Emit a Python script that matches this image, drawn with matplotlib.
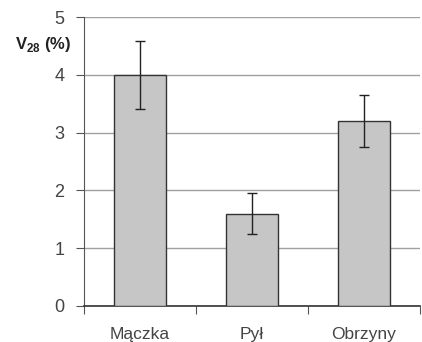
import matplotlib
matplotlib.use('Agg')
import matplotlib.pyplot as plt

plt.rcParams['font.family'] = ['Liberation Sans', 'DejaVu Sans']
plt.rcParams['mathtext.fontset'] = 'custom'
plt.rcParams['mathtext.rm'] = 'Liberation Sans'
plt.rcParams['mathtext.bf'] = 'Liberation Sans:bold'

categories = ['Mączka', 'Pył', 'Obrzyny']
values = [4.0, 1.6, 3.2]
errors = [0.59, 0.36, 0.45]
yticks = [0, 1, 2, 3, 4, 5]

fig = plt.figure(figsize=(4.22, 3.42), dpi=100)
ax = fig.add_axes([84 / 422, 36 / 342, 336 / 422, 289 / 342])

x = list(range(len(categories)))
ax.bar(x, values, width=0.46, color='#c6c6c6', edgecolor='#333333', linewidth=1.0, zorder=3)
ax.errorbar(x, values, yerr=errors, fmt='none', ecolor='#222222', elinewidth=1.0,
            capsize=3.6, capthick=1.0, zorder=4)

ax.set_xlim(-0.5, 2.5)
ax.set_ylim(0, 5)
ax.set_yticks(yticks)
ax.set_yticklabels([str(t) for t in yticks], fontsize=13, color='#444444')
ax.yaxis.grid(True, color='#a0a0a0', linewidth=1.0, zorder=0)

# category ticks sit between bars, labels centered under bars
ax.set_xticks([-0.5, 0.5, 1.5, 2.5])
ax.set_xticklabels([])
ax.set_xticks(x, minor=True)
ax.set_xticklabels(categories, minor=True, fontsize=12.5, color='#444444')
ax.tick_params(axis='x', which='minor', length=0, pad=15)
ax.tick_params(axis='x', which='major', length=6, color='#555555', direction='out')
ax.tick_params(axis='y', length=6, color='#555555', direction='out', pad=8)

for side in ['top', 'right']:
    ax.spines[side].set_visible(False)
ax.spines['left'].set_color('#555555')
ax.spines['bottom'].set_color('#333333')
ax.spines['bottom'].set_linewidth(1.2)

fig.text(15 / 422, 1 - 45 / 342, r'V$_{\mathbf{28}}$ (%)', fontsize=12, fontweight='bold',
         color='#222222', va='center', ha='left')

fig.savefig('out.png', dpi=100)
